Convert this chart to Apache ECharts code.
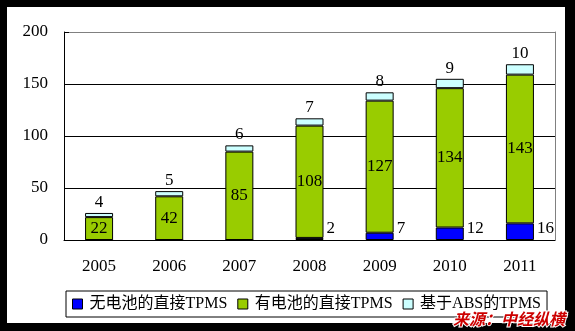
<!DOCTYPE html>
<html>
<head>
<meta charset="utf-8">
<script src="https://cdn.jsdelivr.net/npm/echarts@6/dist/echarts.min.js"></script>
<style>
  html, body { margin: 0; padding: 0; background: #000; }
  #chart { width: 575px; height: 331px; }
</style>
</head>
<body>
<div id="chart"></div>
<script>
// Years on the category axis
const years = ['2005', '2006', '2007', '2008', '2009', '2010', '2011'];
// Series names (legend)
const seriesNames = ['无电池的直接TPMS', '有电池的直接TPMS', '基于ABS的TPMS'];
// Values per year, stacked bottom to top
const noBattery = [0, 0, 0, 2, 7, 12, 16];
const withBattery = [22, 42, 85, 108, 127, 134, 143];
const absBased = [4, 5, 6, 7, 8, 9, 10];
// Value axis ticks
const yTicks = [0, 50, 100, 150, 200];

const serif = '"Liberation Serif", "Noto Sans CJK SC", serif';
const labelFont = { fontFamily: serif, fontSize: 17, color: '#000' };

const chart = echarts.init(document.getElementById('chart'), null, { renderer: 'canvas' });

chart.setOption({
  backgroundColor: '#000',
  animation: false,
  graphic: [
    {
      type: 'rect', z: -10, silent: true,
      shape: { x: 7, y: 7, width: 558, height: 316 },
      style: { fill: '#fff' }
    },
    {
      type: 'text', z: 100, silent: true,
      left: 452, top: 310,
      style: {
        text: '来源：中经纵横',
        font: 'italic bold 16px "Noto Sans CJK SC"',
        fill: '#cc0000',
        stroke: '#fff',
        lineWidth: 2
      }
    }
  ],
  grid: { left: 64, top: 32, right: 20, bottom: 91 },
  legend: {
    left: 66, top: 291,
    data: seriesNames,
    orient: 'horizontal',
    borderColor: '#000', borderWidth: 1,
    padding: [5, 6, 5, 6],
    itemWidth: 10, itemHeight: 10, itemGap: 10,
    icon: 'rect',
    itemStyle: { borderColor: '#000', borderWidth: 1 },
    textStyle: { fontFamily: serif, fontSize: 16, color: '#000', padding: [0, 0, 0, 2] }
  },
  xAxis: {
    type: 'category',
    data: years,
    axisLine: { lineStyle: { color: '#000', width: 1 } },
    axisTick: { inside: true, length: 5, lineStyle: { color: '#000' } },
    axisLabel: { margin: 18, fontFamily: serif, fontSize: 17, color: '#000' }
  },
  yAxis: [
    {
      type: 'value',
      min: yTicks[0], max: yTicks[yTicks.length - 1], interval: yTicks[1] - yTicks[0],
      axisLine: { show: true, lineStyle: { color: '#000' } },
      axisTick: { show: true, inside: true, length: 5, lineStyle: { color: '#000' } },
      axisLabel: { margin: 16, fontFamily: serif, fontSize: 17, color: '#000' },
      splitLine: { show: true, lineStyle: { color: ['#000', '#000', '#000', '#000', '#808080'], width: 1 } }
    },
    {
      type: 'value', position: 'right',
      min: yTicks[0], max: yTicks[yTicks.length - 1], interval: yTicks[1] - yTicks[0],
      axisLine: { show: true, lineStyle: { color: '#808080' } },
      axisTick: { show: false }, axisLabel: { show: false }, splitLine: { show: false }
    }
  ],
  series: [
    {
      name: seriesNames[0], type: 'bar', stack: 'total', barWidth: 28,
      data: noBattery,
      itemStyle: { color: '#0000ff', borderColor: '#000', borderWidth: 1 },
      label: {
        show: true, position: ['100%', '100%'], align: 'left', verticalAlign: 'middle',
        offset: [3, -11], ...labelFont,
        formatter: p => (p.value ? String(p.value) : '')
      }
    },
    {
      name: seriesNames[1], type: 'bar', stack: 'total', barWidth: 28,
      data: withBattery,
      itemStyle: { color: '#99cc00', borderColor: '#000', borderWidth: 1 },
      label: { show: true, position: 'inside', ...labelFont }
    },
    {
      name: seriesNames[2], type: 'bar', stack: 'total', barWidth: 28,
      data: absBased,
      itemStyle: { color: '#ccffff', borderColor: '#000', borderWidth: 1 },
      label: { show: true, position: 'top', distance: 2, ...labelFont }
    }
  ]
});
</script>
</body>
</html>
